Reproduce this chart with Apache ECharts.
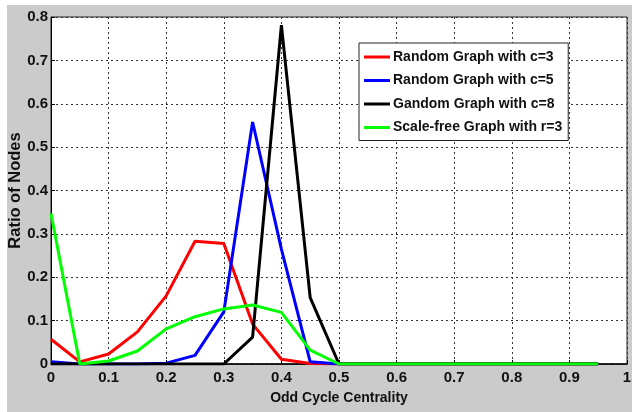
<!DOCTYPE html>
<html>
<head>
<meta charset="utf-8">
<script src="https://cdn.jsdelivr.net/npm/echarts@6/dist/echarts.min.js"></script>
<style>
  html, body { margin: 0; padding: 0; background: #fff; }
  #wrap { position: relative; width: 632px; height: 412px; background: #fff; }
  #chart { position: absolute; left: 7px; top: 5px; width: 625px; height: 407px; }
</style>
</head>
<body>
<div id="wrap"><div id="chart"></div></div>
<script>
// odd cycle centrality bins
var centrality = [0, 0.05, 0.1, 0.15, 0.2, 0.25, 0.3, 0.35, 0.4, 0.45, 0.5, 0.55, 0.6, 0.65, 0.7, 0.75, 0.8, 0.85, 0.9, 0.95];

var randomC3 = [0.057, 0.005, 0.023, 0.074, 0.157, 0.283, 0.278, 0.092, 0.011, 0.001, 0, 0, 0, 0, 0, 0, 0, 0, 0, 0];
var randomC5 = [0.005, 0, 0, 0, 0.002, 0.02, 0.12, 0.558, 0.265, 0.005, 0, 0, 0, 0, 0, 0, 0, 0, 0, 0];
var gandomC8 = [0, 0, 0, 0, 0, 0, 0, 0.062, 0.781, 0.153, 0, 0, 0, 0, 0, 0, 0, 0, 0, 0];
var scaleFreeR3 = [0.347, 0, 0.007, 0.03, 0.081, 0.109, 0.127, 0.136, 0.119, 0.032, 0, 0, 0, 0, 0, 0, 0, 0, 0, 0];

var seriesNames = ["Random Graph with c=3", "Random Graph with c=5", "Gandom Graph with c=8", "Scale-free Graph with r=3"];
var seriesColors = ["#ff0000", "#0000ff", "#000000", "#00ff00"];

var chart = echarts.init(document.getElementById("chart"));

function pairs(vals) {
  return vals.map(function(v, i) { return [centrality[i], v]; });
}

var font = "Arial, 'Liberation Sans', sans-serif";

var option = {
  backgroundColor: "#cbcbcb",
  animation: false,
  textStyle: { fontFamily: font },
  grid: {
    left: 44,
    top: 12,
    right: 5,
    bottom: 48,
    outerBoundsMode: "none",
    containLabel: false,
    show: true,
    backgroundColor: "#fff",
    borderColor: "#222",
    borderWidth: 1
  },
  legend: {
    left: 352,
    top: 38,
    orient: "vertical",
    icon: "rect",
    itemWidth: 26,
    itemHeight: 3,
    itemGap: 9.5,
    padding: [7, 6, 6, 5],
    backgroundColor: "#fff",
    borderColor: "#222",
    borderWidth: 1,
    borderRadius: 0,
    selectedMode: false,
    textStyle: {
      color: "#111",
      fontWeight: "bold",
      fontSize: 14,
      fontFamily: font,
      padding: [0, 0, 0, -2]
    },
    data: seriesNames
  },
  xAxis: {
    type: "value",
    min: 0,
    max: 1,
    interval: 0.1,
    name: "Odd Cycle Centrality",
    nameLocation: "middle",
    nameGap: 27,
    nameMoveOverlap: false,
    nameTextStyle: { color: "#111", fontWeight: "bold", fontSize: 14, fontFamily: font },
    axisLine: { show: true, lineStyle: { color: "#000", width: 1.5 } },
    axisTick: { show: true, inside: true, length: 4, lineStyle: { color: "#000" } },
    axisLabel: { color: "#111", fontWeight: "bold", fontSize: 15, margin: 6 },
    splitLine: { show: true, lineStyle: { color: "#333", type: [2, 3], width: 1 } }
  },
  yAxis: {
    type: "value",
    min: 0,
    max: 0.8,
    interval: 0.1,
    name: "Ratio of Nodes",
    nameLocation: "middle",
    nameGap: 27,
    nameMoveOverlap: false,
    nameTextStyle: { color: "#111", fontWeight: "bold", fontSize: 16.5, fontFamily: font },
    axisLine: { show: true, lineStyle: { color: "#000", width: 1 } },
    axisTick: { show: true, inside: true, length: 4, lineStyle: { color: "#000" } },
    axisLabel: { color: "#111", fontWeight: "bold", fontSize: 15, margin: 3 },
    splitLine: { show: true, lineStyle: { color: "#333", type: [2, 3], width: 1 } }
  },
  series: [randomC3, randomC5, gandomC8, scaleFreeR3].map(function(vals, i) {
    return {
      name: seriesNames[i],
      type: "line",
      data: pairs(vals),
      symbol: "none",
      color: seriesColors[i],
      lineStyle: { width: 3, color: seriesColors[i] }
    };
  })
};

chart.setOption(option);
</script>
</body>
</html>
